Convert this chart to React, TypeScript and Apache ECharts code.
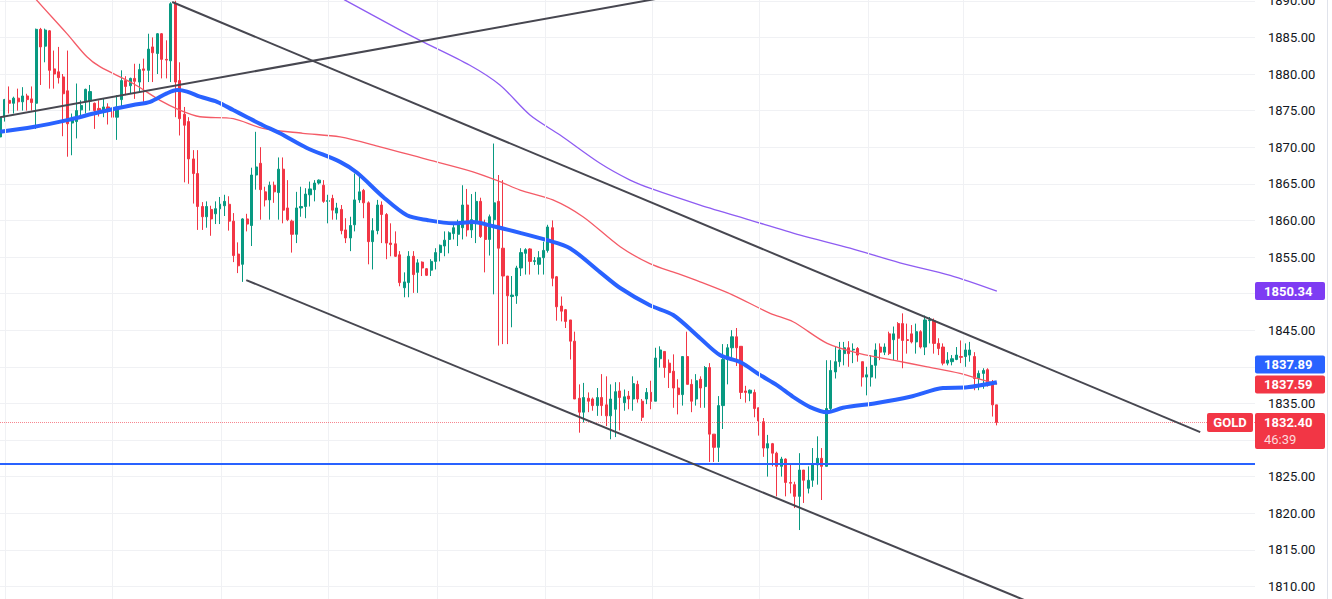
import React, { useEffect, useRef } from "react";
import * as echarts from "echarts";

// [open, close, low, high]
const candles: number[][] = [
  [1871.4, 1874.0, 1870.3, 1874.1], [1874.1, 1876.5, 1873.5, 1876.6], [1876.4, 1876.0, 1874.6, 1878.3], [1876.0, 1876.7, 1874.6, 1876.9],
  [1876.7, 1876.2, 1875.0, 1878.0], [1876.2, 1877.0, 1875.0, 1878.2], [1877.0, 1876.5, 1875.0, 1877.3], [1876.6, 1876.1, 1875.0, 1878.3],
  [1876.0, 1886.1, 1872.5, 1886.2], [1886.1, 1883.7, 1878.5, 1886.3], [1883.8, 1886.0, 1881.6, 1886.2], [1885.9, 1880.5, 1878.0, 1886.0],
  [1880.7, 1880.0, 1878.0, 1883.2], [1880.3, 1879.5, 1878.7, 1883.7], [1879.6, 1877.3, 1871.5, 1880.0], [1877.7, 1873.2, 1868.7, 1883.2],
  [1873.3, 1873.9, 1868.9, 1874.6], [1873.5, 1875.0, 1871.2, 1878.7], [1875.1, 1875.7, 1874.1, 1876.4], [1876.2, 1877.9, 1874.6, 1878.0],
  [1876.3, 1877.6, 1875.0, 1878.5], [1876.0, 1875.0, 1872.5, 1876.1], [1875.3, 1875.0, 1874.2, 1876.4], [1874.9, 1875.5, 1874.1, 1876.6],
  [1875.5, 1875.0, 1873.1, 1876.0], [1875.0, 1874.1, 1873.1, 1875.2], [1874.1, 1875.5, 1871.0, 1877.1], [1876.5, 1879.1, 1875.3, 1880.5],
  [1879.1, 1878.3, 1877.1, 1879.7], [1878.4, 1879.4, 1877.3, 1879.5], [1879.4, 1879.0, 1876.6, 1881.4], [1878.9, 1880.6, 1877.5, 1881.4],
  [1880.7, 1880.5, 1876.2, 1882.1], [1880.5, 1883.4, 1878.9, 1885.5], [1883.7, 1882.9, 1878.9, 1885.0], [1882.8, 1885.5, 1880.0, 1885.6],
  [1885.5, 1882.0, 1879.4, 1885.6], [1882.0, 1881.9, 1879.4, 1884.6], [1881.8, 1889.6, 1878.9, 1889.8], [1889.6, 1878.9, 1874.1, 1890.0],
  [1879.1, 1873.9, 1871.6, 1881.6], [1874.5, 1873.0, 1865.2, 1875.5], [1873.5, 1868.4, 1865.0, 1874.1], [1868.4, 1866.4, 1862.3, 1869.6],
  [1866.4, 1861.9, 1858.7, 1869.6], [1861.9, 1860.5, 1858.7, 1862.5], [1860.5, 1861.9, 1859.0, 1862.6], [1861.5, 1860.2, 1857.9, 1862.0],
  [1860.9, 1861.6, 1859.5, 1862.6], [1861.6, 1862.2, 1859.5, 1863.2], [1862.0, 1862.6, 1860.6, 1863.5], [1862.2, 1859.9, 1858.6, 1863.3],
  [1859.9, 1855.2, 1854.3, 1861.0], [1855.4, 1853.8, 1852.8, 1857.0], [1854.0, 1860.2, 1851.6, 1860.3], [1860.2, 1859.5, 1858.5, 1860.9],
  [1859.3, 1866.2, 1856.5, 1867.2], [1866.2, 1867.3, 1864.2, 1872.1], [1867.8, 1864.2, 1860.1, 1870.0], [1863.9, 1862.8, 1861.9, 1864.6],
  [1862.8, 1864.8, 1860.1, 1865.3], [1864.8, 1863.9, 1862.4, 1865.3], [1863.8, 1867.0, 1860.1, 1868.6], [1867.0, 1861.4, 1859.6, 1868.6],
  [1861.7, 1860.1, 1859.9, 1865.5], [1859.9, 1858.1, 1855.6, 1860.1], [1858.1, 1861.7, 1856.9, 1863.9], [1861.7, 1861.9, 1860.5, 1864.6],
  [1861.9, 1863.6, 1860.3, 1864.4], [1863.5, 1864.3, 1861.9, 1865.3], [1864.2, 1865.1, 1862.6, 1865.5], [1865.1, 1865.5, 1864.9, 1865.6],
  [1864.8, 1862.6, 1862.4, 1865.5], [1862.6, 1862.7, 1859.6, 1863.5], [1863.0, 1861.4, 1860.1, 1863.5], [1861.0, 1861.7, 1860.1, 1862.4],
  [1861.5, 1858.6, 1858.1, 1862.1], [1858.7, 1857.6, 1856.9, 1860.3], [1857.6, 1859.3, 1855.8, 1860.5], [1859.4, 1862.8, 1858.5, 1866.4],
  [1862.8, 1863.9, 1862.4, 1866.4], [1864.1, 1862.4, 1860.3, 1864.3], [1862.4, 1857.1, 1854.0, 1862.6], [1857.1, 1858.6, 1853.3, 1860.3],
  [1858.6, 1862.1, 1858.1, 1862.8], [1862.1, 1860.8, 1856.9, 1862.6], [1860.8, 1856.9, 1854.7, 1861.0], [1856.9, 1856.7, 1855.1, 1859.6],
  [1856.8, 1855.1, 1855.0, 1858.5], [1855.3, 1851.5, 1851.0, 1855.8], [1850.8, 1851.6, 1849.5, 1852.9], [1851.5, 1855.1, 1849.5, 1855.8],
  [1855.1, 1852.6, 1850.1, 1855.8], [1852.9, 1854.2, 1850.1, 1854.7], [1854.3, 1853.5, 1852.4, 1854.4], [1853.4, 1852.5, 1852.4, 1853.5],
  [1853.2, 1854.4, 1852.4, 1854.7], [1854.4, 1855.6, 1853.3, 1856.2], [1855.6, 1856.6, 1854.4, 1856.7], [1856.5, 1857.3, 1855.1, 1858.5],
  [1857.4, 1858.3, 1855.5, 1858.5], [1858.2, 1859.0, 1857.4, 1859.6], [1858.1, 1859.4, 1856.5, 1860.1], [1859.0, 1862.1, 1857.4, 1864.8],
  [1862.1, 1858.7, 1857.8, 1864.3], [1858.7, 1860.1, 1857.6, 1863.6], [1859.6, 1862.6, 1856.9, 1863.9], [1862.6, 1857.8, 1857.6, 1863.1],
  [1859.4, 1857.4, 1852.9, 1860.1], [1857.4, 1860.5, 1855.2, 1860.8], [1860.1, 1862.4, 1849.9, 1870.5], [1862.6, 1856.2, 1842.9, 1866.2],
  [1856.2, 1852.4, 1843.1, 1865.5], [1852.4, 1849.7, 1843.1, 1852.4], [1849.6, 1849.8, 1845.4, 1852.4], [1849.7, 1853.5, 1848.6, 1853.8],
  [1853.5, 1855.6, 1852.4, 1856.2], [1855.5, 1856.0, 1852.6, 1856.2], [1856.1, 1854.4, 1852.6, 1856.2], [1854.4, 1854.5, 1853.9, 1855.0],
  [1854.0, 1854.9, 1852.6, 1855.8], [1854.9, 1855.9, 1852.6, 1857.1], [1855.9, 1859.1, 1855.6, 1859.4], [1859.0, 1852.1, 1851.0, 1860.0],
  [1852.3, 1848.2, 1846.3, 1852.4], [1848.3, 1847.6, 1846.2, 1849.6], [1847.8, 1846.2, 1845.3, 1847.9], [1846.4, 1843.5, 1841.0, 1846.4],
  [1843.5, 1835.6, 1835.6, 1844.8], [1835.7, 1833.8, 1831.0, 1837.6], [1833.8, 1835.8, 1832.4, 1837.8], [1835.7, 1835.3, 1833.8, 1836.5],
  [1835.6, 1834.7, 1834.0, 1835.8], [1834.7, 1835.8, 1833.3, 1837.1], [1835.8, 1834.7, 1833.3, 1839.0], [1834.8, 1833.3, 1831.9, 1838.7],
  [1833.3, 1835.6, 1830.1, 1837.6], [1834.2, 1836.6, 1830.4, 1837.9], [1836.7, 1835.8, 1831.3, 1837.9], [1835.1, 1835.9, 1834.0, 1836.9],
  [1836.0, 1835.6, 1834.2, 1836.7], [1835.6, 1837.7, 1834.0, 1838.7], [1837.6, 1835.6, 1835.1, 1838.1], [1835.3, 1833.1, 1832.6, 1835.6],
  [1835.6, 1836.5, 1834.9, 1837.1], [1836.5, 1835.3, 1834.2, 1838.1], [1835.3, 1841.2, 1835.3, 1842.6], [1841.1, 1842.3, 1839.9, 1842.8],
  [1842.1, 1839.9, 1838.5, 1842.1], [1840.5, 1839.2, 1837.1, 1841.0], [1839.4, 1837.1, 1834.4, 1841.7], [1837.1, 1836.2, 1833.5, 1838.3],
  [1836.2, 1841.4, 1834.7, 1841.4], [1841.4, 1837.6, 1837.6, 1844.8], [1837.6, 1835.3, 1833.8, 1838.3], [1835.6, 1838.1, 1834.7, 1839.0],
  [1838.3, 1837.1, 1834.4, 1838.7], [1837.3, 1839.9, 1834.4, 1840.1], [1839.9, 1830.8, 1827.0, 1840.5], [1830.8, 1829.0, 1827.0, 1830.8],
  [1829.0, 1834.7, 1827.0, 1836.0], [1834.7, 1841.0, 1831.5, 1843.1], [1841.0, 1842.6, 1837.6, 1843.1], [1842.6, 1844.1, 1841.0, 1845.0],
  [1844.1, 1842.6, 1840.1, 1845.3], [1842.8, 1836.5, 1835.6, 1842.8], [1836.7, 1836.5, 1835.1, 1837.4], [1836.4, 1836.8, 1835.3, 1836.9],
  [1836.5, 1834.3, 1833.1, 1836.9], [1834.4, 1832.6, 1830.6, 1834.4], [1832.5, 1828.9, 1827.7, 1833.0], [1828.9, 1829.5, 1825.0, 1830.7],
  [1829.5, 1828.2, 1826.4, 1829.6], [1828.2, 1826.4, 1822.3, 1828.4], [1826.4, 1827.4, 1825.0, 1827.7], [1827.4, 1824.2, 1822.3, 1827.5],
  [1824.2, 1824.1, 1822.7, 1826.8], [1823.9, 1822.3, 1820.7, 1824.3], [1822.3, 1825.9, 1817.7, 1828.2], [1825.9, 1824.5, 1821.4, 1825.9],
  [1823.4, 1824.5, 1822.7, 1826.4], [1824.5, 1826.6, 1823.6, 1828.9], [1826.6, 1827.5, 1823.9, 1830.5], [1827.5, 1826.4, 1821.8, 1828.9],
  [1826.4, 1834.3, 1826.4, 1840.9], [1834.3, 1839.5, 1834.1, 1840.9], [1839.3, 1840.7, 1838.4, 1842.7], [1840.7, 1842.3, 1840.0, 1843.4],
  [1841.8, 1842.6, 1840.2, 1843.4], [1842.6, 1841.8, 1840.0, 1843.5], [1842.3, 1842.4, 1840.5, 1843.2], [1842.5, 1841.6, 1840.7, 1842.7],
  [1840.7, 1838.6, 1837.3, 1840.7], [1838.6, 1838.9, 1836.1, 1840.0], [1838.6, 1840.2, 1837.3, 1841.6], [1840.2, 1842.3, 1838.4, 1843.2],
  [1842.7, 1842.0, 1840.9, 1843.2], [1842.0, 1842.7, 1841.6, 1843.2], [1844.5, 1841.8, 1841.6, 1844.8], [1843.7, 1844.5, 1840.9, 1845.5],
  [1845.9, 1843.9, 1840.9, 1846.1], [1845.9, 1843.6, 1839.8, 1847.3], [1843.7, 1843.6, 1841.8, 1845.9], [1844.5, 1843.4, 1843.2, 1845.7],
  [1843.4, 1844.8, 1841.8, 1845.9], [1844.8, 1842.7, 1842.5, 1845.0], [1842.7, 1846.4, 1841.6, 1847.0], [1846.3, 1846.4, 1843.2, 1846.8],
  [1846.3, 1843.2, 1841.8, 1846.6], [1843.2, 1842.5, 1841.6, 1843.9], [1842.7, 1840.5, 1840.2, 1843.2], [1840.5, 1840.9, 1840.2, 1842.0],
  [1840.7, 1841.1, 1840.2, 1841.6], [1841.0, 1841.6, 1840.9, 1842.7], [1841.4, 1841.3, 1840.5, 1843.6], [1841.4, 1842.3, 1840.0, 1843.2],
  [1841.6, 1842.3, 1840.7, 1843.4], [1841.4, 1838.4, 1836.8, 1842.0], [1838.4, 1839.1, 1836.8, 1839.5], [1839.1, 1839.5, 1837.0, 1839.8],
  [1839.6, 1837.5, 1837.3, 1839.8], [1837.5, 1834.8, 1833.2, 1838.2], [1834.8, 1832.4, 1832.0, 1834.8],
];

// number of time slots on the axis (candles + empty space to the right)
const slotCount = 280;
const slotLabels: string[] = Array.from({ length: slotCount }, (_, i) => String(i));

// moving averages: [slot index, value]
const maBlue: number[][] = [
  [0, 1872.1], [7.3, 1872.75], [14.9, 1873.7], [22.2, 1874.8], [29.6, 1875.76], [33.4, 1876.2], [37.1, 1877.35],
  [39.4, 1877.8], [41.6, 1877.6], [44.5, 1876.9], [48.3, 1876.2], [51.9, 1875.07], [55, 1874.1], [58.5, 1873.0],
  [62.3, 1871.9], [68.3, 1869.9], [75.7, 1868.0], [79.5, 1866.5], [85.3, 1863.2], [90.6, 1860.7], [95.1, 1860.05],
  [100.9, 1859.6], [105.3, 1859.77], [109.8, 1859.2], [115.8, 1858.3], [121.8, 1857.3], [126.9, 1856.2],
  [133.6, 1852.94], [138.1, 1850.76], [144.7, 1848.4], [149.9, 1847.07], [155.9, 1843.9], [160.3, 1841.6],
  [164.8, 1840.65], [169.2, 1838.9], [173.0, 1837.5], [176.6, 1835.9], [180.4, 1834.5], [184.2, 1833.8],
  [187.7, 1834.4], [195.3, 1835.05], [202.7, 1835.9], [210.0, 1837.1], [215.4, 1837.2], [222, 1837.89],
];
const maRed: number[][] = [
  [4.4, 1892.8], [8.1, 1890.1], [14.8, 1885.55], [19.3, 1882.35], [22.2, 1881.0], [29.6, 1878.7], [35.6, 1876.4],
  [40.0, 1875.07], [44.5, 1874.16], [51.9, 1873.9], [58.5, 1872.57], [67.4, 1871.9], [75.7, 1871.4],
  [84.6, 1870.06], [94.2, 1868.47], [105.3, 1866.64], [111.3, 1865.3], [115.8, 1864.14], [123.1, 1862.8],
  [129.8, 1860.5], [138.1, 1856.4], [144.7, 1854.1], [150.8, 1852.76], [155.9, 1851.6], [163.2, 1849.8],
  [171.5, 1847.3], [176.6, 1846.15], [184.2, 1843.2], [191.5, 1841.8], [198.9, 1840.9], [206.5, 1840.0],
  [213.8, 1839.1], [222, 1837.59],
];
const maPurple: number[][] = [
  [66.8, 1893.5], [76.8, 1890.1], [89.1, 1886.0], [93.5, 1884.6], [104.6, 1881.2], [111.3, 1878.5], [118.0, 1874.4],
  [124.7, 1871.66], [133.6, 1867.8], [140.3, 1865.5], [144.7, 1864.4], [155.9, 1862.1], [167.0, 1860.05],
  [178.2, 1858.0], [189.3, 1856.2], [200.4, 1854.2], [211.6, 1852.5], [222, 1850.34],
];

// trend lines: two anchor points each [slot index, price]
const risingLine: number[][] = [[-0.5, 1874.05], [160, 1891.8]];
const upperChannel: number[][] = [[38.3, 1889.83], [267.3, 1831.08]];
const lowerChannel: number[][] = [[54.8, 1851.85], [235, 1806.4]];

const supportLevel = 1826.7;
const lastPrice = 1832.4;
const countdown = "46:39";
const symbolName = "GOLD";
const purpleLast = 1850.34;
const blueLast = 1837.89;
const redLast = 1837.59;
// axis labels hidden behind the price tags or outside the picture
const hiddenTicks: number[] = [1850, 1840, 1830, 1805, 1895];

// session separators (slot index)
const sessionBreaks: number[] = [1.06, 24.9, 49.2, 73.0, 97.3, 121.4, 145.2, 169.0, 193.3, 214.5];

const UP = "#089981";
const DOWN = "#f23645";
const BLUE = "#2962ff";
const PURPLE = "#7e3cf3";
const FONT = "Roboto, 'Noto Sans', sans-serif";

export default function App() {
  const ref = useRef<HTMLDivElement>(null);

  useEffect(() => {
    if (!ref.current) return;
    const chart = echarts.init(ref.current, undefined, { renderer: "svg" });
    const lineSeries = (data: number[][], color: string, width: number, z: number, smooth: number | boolean = 0.3, opacity = 1) => ({
      type: "line",
      xAxisIndex: 1,
      yAxisIndex: 0,
      data,
      symbol: "none",
      smooth,
      silent: true,
      z,
      lineStyle: { color, width, opacity },
    });
    chart.setOption({
      animation: false,
      backgroundColor: "#ffffff",
      textStyle: { fontFamily: FONT },
      grid: { left: -2, right: 77, top: -35.8, bottom: -24, containLabel: false, outerBoundsMode: "none" },
      xAxis: [
        {
          type: "category",
          data: slotLabels,
          boundaryGap: true,
          show: false,
        },
        {
          type: "value",
          min: -0.5,
          max: slotCount - 0.5,
          show: false,
        },
      ],
      yAxis: {
        type: "value",
        position: "right",
        min: 1805,
        max: 1895,
        interval: 5,
        axisLine: { show: false },
        axisTick: { show: false },
        axisLabel: {
          color: "#131722",
          fontSize: 13,
          fontFamily: FONT,
          margin: 13,
          formatter: (v: number) => (hiddenTicks.includes(Math.round(v)) ? "" : v.toFixed(2)),
        },
        splitLine: { lineStyle: { color: "#f0f1f4", width: 1 } },
      },
      series: [
        {
          type: "line",
          xAxisIndex: 1,
          yAxisIndex: 0,
          data: [],
          silent: true,
          z: 0,
          markLine: {
            silent: true,
            symbol: ["none", "none"],
            label: { show: false },
            lineStyle: { color: "#f0f1f4", width: 1, type: "solid" },
            data: sessionBreaks.map((v) => ({ xAxis: v })),
          },
        },
        {
          type: "candlestick",
          xAxisIndex: 0,
          yAxisIndex: 0,
          data: candles,
          barWidth: 2.6,
          z: 2,
          itemStyle: {
            color: UP,
            color0: DOWN,
            borderColor: UP,
            borderColor0: DOWN,
            borderWidth: 1,
          },
        },
        lineSeries(maPurple, "#8e5cf2", 1.3, 3),
        lineSeries(maRed, "#f45b67", 1.3, 3),
        lineSeries(maBlue, BLUE, 4, 4),
        lineSeries(risingLine, "#474750", 2, 5, false),
        lineSeries(upperChannel, "#474750", 2, 5, false),
        lineSeries(lowerChannel, "#474750", 2, 5, false),
        {
          type: "line",
          xAxisIndex: 1,
          yAxisIndex: 0,
          data: [],
          silent: true,
          z: 4,
          markLine: {
            silent: true,
            symbol: ["none", "none"],
            label: { show: false },
            data: [
              { yAxis: supportLevel, lineStyle: { color: BLUE, width: 2, type: "solid" } },
              { yAxis: lastPrice, lineStyle: { color: DOWN, width: 1, type: "dotted", opacity: 0.6 } },
            ],
          },
        },
      ],
    });

    const yPx = (v: number) => chart.convertToPixel({ yAxisIndex: 0 }, v) as number;
    const tagX = 1255;
    const tagW = 70;
    const yRed = yPx(redLast);
    const yBlue = yRed - 20;
    const yPurple = yPx(purpleLast);
    const yLast = yPx(lastPrice);
    const tag = (yc: number, text: string, fill: string) => [
      { type: "rect", z: 100, shape: { x: tagX, y: yc - 9, width: tagW, height: 18, r: 2 }, style: { fill } },
      {
        type: "text",
        z: 101,
        style: { text, x: tagX + 9, y: yc + 0.5, fill: "#ffffff", fontSize: 13, fontWeight: "bold", fontFamily: FONT, align: "left", verticalAlign: "middle" },
      },
    ];
    chart.setOption({
      graphic: [
        { type: "rect", z: 99, shape: { x: 1327, y: 0, width: 1, height: 599 }, style: { fill: "#e0e3eb" } },
        ...tag(yPurple, purpleLast.toFixed(2), PURPLE),
        ...tag(yBlue, blueLast.toFixed(2), BLUE),
        ...tag(yRed, redLast.toFixed(2), DOWN),
        { type: "rect", z: 100, shape: { x: tagX, y: yLast - 9.5, width: tagW, height: 36, r: 2 }, style: { fill: DOWN } },
        {
          type: "text",
          z: 101,
          style: { text: lastPrice.toFixed(2), x: tagX + 9, y: yLast + 0.5, fill: "#ffffff", fontSize: 13, fontWeight: "bold", fontFamily: FONT, align: "left", verticalAlign: "middle" },
        },
        {
          type: "text",
          z: 101,
          style: { text: countdown, x: tagX + 9, y: yLast + 17.5, fill: "rgba(255,255,255,0.82)", fontSize: 13, fontFamily: FONT, align: "left", verticalAlign: "middle" },
        },
        { type: "rect", z: 100, shape: { x: 1207, y: yLast - 9.5, width: 46, height: 19, r: 2 }, style: { fill: DOWN } },
        {
          type: "text",
          z: 101,
          style: { text: symbolName, x: 1230, y: yLast + 0.5, fill: "#ffffff", fontSize: 13, fontWeight: "bold", fontFamily: FONT, align: "center", verticalAlign: "middle" },
        },
      ],
    });

    return () => chart.dispose();
  }, []);

  return <div ref={ref} style={{ position: "fixed", left: 0, top: 0, width: 1332, height: 599, background: "#fff" }} />;
}
